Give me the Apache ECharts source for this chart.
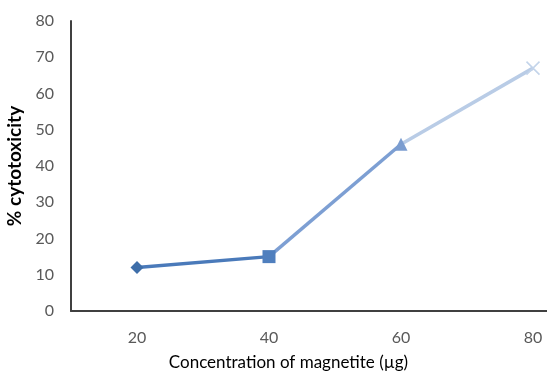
<!DOCTYPE html>
<html>
<head>
<meta charset="utf-8">
<script src="https://cdn.jsdelivr.net/npm/echarts@6/dist/echarts.min.js"></script>
<style>
  html, body { margin: 0; padding: 0; background: #fff; }
  #chart { width: 547px; height: 371px; }
</style>
</head>
<body>
<div id="chart"></div>
<script>
// Concentration of magnetite (µg) and measured cytotoxicity (%)
const concentrations = ['20', '40', '60', '80'];
const cytotoxicity = [12, 15, 46, 67];
const yTicks = [0, 10, 20, 30, 40, 50, 60, 70, 80];

// Per-point marker and segment styling
const markerShapes = ['diamond', 'rect', 'triangle', 'path://M0,0 L10,10 M10,0 L0,10'];
const markerColors = ['#3e6ea9', '#4f7fbe', '#7b9dd0', '#c3d4ea'];
const markerSizes = [13, 13, 13, 13];
const segmentColors = ['#4a7aba', '#7d9fd3', '#b9cce6'];

const FONT = 'Lato, "Open Sans", sans-serif';

// one line series per segment between consecutive points
const segmentSeries = segmentColors.map((color, i) => ({
  type: 'line',
  data: cytotoxicity.map((v, j) => (j === i || j === i + 1) ? v : null),
  showSymbol: false,
  connectNulls: false,
  lineStyle: { color: color, width: 3.5 },
  z: 2,
  silent: true
}));

const markerSeries = {
  type: 'line',
  data: cytotoxicity.map((v, j) => ({
    value: v,
    symbol: markerShapes[j],
    symbolSize: markerSizes[j],
    itemStyle: j === 3
      ? { color: 'none', borderColor: markerColors[j], borderWidth: 1.5 }
      : { color: markerColors[j], borderWidth: 0 }
  })),
  lineStyle: { width: 0, opacity: 0 },
  showAllSymbol: true,
  z: 3,
  silent: true
};

const chart = echarts.init(document.getElementById('chart'), null, { renderer: 'canvas' });
chart.setOption({
  animation: false,
  backgroundColor: '#ffffff',
  grid: {
    left: 71, top: 21, width: 528, height: 290,
    containLabel: false,
    outerBoundsMode: 'none'
  },
  xAxis: {
    type: 'category',
    data: concentrations,
    boundaryGap: true,
    axisLine: { lineStyle: { color: '#404040', width: 2 } },
    axisTick: { show: false },
    axisLabel: { color: '#595959', fontSize: 16, fontFamily: FONT, margin: 19 },
    name: 'Concentration of magnetite (\u00b5g)',
    nameLocation: 'middle',
    nameGap: 43,
    nameTextStyle: { color: '#000', fontSize: 17, fontFamily: FONT, padding: [0, 93, 0, 0] }
  },
  yAxis: {
    type: 'value',
    min: yTicks[0],
    max: yTicks[yTicks.length - 1],
    interval: yTicks[1] - yTicks[0],
    axisLine: { show: true, lineStyle: { color: '#404040', width: 2 } },
    axisTick: { show: false },
    splitLine: { show: false },
    axisLabel: { color: '#595959', fontSize: 16, fontFamily: FONT, margin: 17 },
    name: '% cytotoxicity',
    nameLocation: 'middle',
    nameGap: 46,
    nameRotate: 90,
    nameTextStyle: { color: '#000', fontSize: 19, fontWeight: 'bold', fontFamily: FONT }
  },
  series: [...segmentSeries, markerSeries]
});
</script>
</body>
</html>
